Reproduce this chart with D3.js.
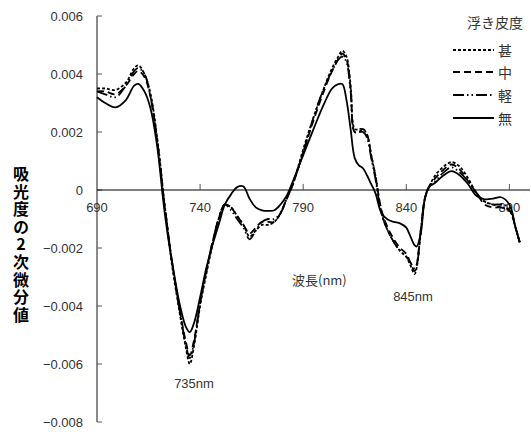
<!DOCTYPE html>
<html>
<head>
<meta charset="utf-8">
<script src="https://cdn.jsdelivr.net/npm/d3@7"></script>
<style>
  html, body { margin: 0; padding: 0; background: #fff; }
  svg { display: block; }
</style>
</head>
<body>
<svg id="chart" width="531" height="432"></svg>
<script>
// Wavelength grid (nm)
const wavelengths = [690,694,699,704,708,710,713,716,719,721,722,724,726,730,733,735,737,740,743,746,749,752,755,758,761,764,767,770,773,776,779,782,785,790,795,800,804,807,809,811,813,815,817,819,821,823,825,828,831,834,837,840,842,844,845,847,849,851,854,858,862,866,870,874,878,882,886,890,893,895];

// Second-derivative absorbance for each grade
const seriesJin = [0.0035,0.0035,0.00345,0.0037,0.0042,0.0043,0.0040,0.0033,0.0019,0.0007,0.0000,-0.0012,-0.0024,-0.0042,-0.0054,-0.0060,-0.0054,-0.0040,-0.0029,-0.0019,-0.0010,-0.0005,-0.0006,-0.0009,-0.0012,-0.0016,-0.0014,-0.0012,-0.0012,-0.0011,-0.0008,-0.0003,0.0002,0.0014,0.0025,0.0035,0.0042,0.0046,0.0048,0.0046,0.0036,0.0021,0.0021,0.0021,0.0019,0.0012,0.0005,-0.0008,-0.0014,-0.0018,-0.0021,-0.0023,-0.0026,-0.0029,-0.0027,-0.0015,-0.0003,0.0001,0.0005,0.0008,0.00096,0.0008,0.0004,-0.0001,-0.0004,-0.0005,-0.0006,-0.0007,-0.0013,-0.0018];
const seriesChu = [0.0034,0.0034,0.0033,0.0036,0.0040,0.0041,0.0039,0.0032,0.0018,0.0006,-0.0001,-0.0012,-0.0023,-0.0041,-0.0052,-0.0057,-0.0052,-0.0039,-0.0028,-0.0018,-0.0010,-0.0005,-0.0006,-0.0009,-0.0012,-0.0015,-0.0013,-0.0011,-0.0011,-0.0011,-0.0008,-0.0003,0.0002,0.0013,0.0024,0.0034,0.0041,0.0045,0.0047,0.0045,0.0035,0.0020,0.0020,0.0021,0.0019,0.0012,0.0005,-0.0007,-0.0013,-0.0017,-0.0020,-0.0022,-0.0025,-0.0028,-0.0026,-0.0014,-0.0003,0.0001,0.0004,0.0007,0.00088,0.0007,0.0003,-0.0001,-0.0005,-0.0006,-0.0006,-0.0007,-0.0013,-0.0018];
const seriesKei = [0.0034,0.0033,0.0032,0.0036,0.0041,0.0042,0.0040,0.0032,0.0018,0.0006,-0.0001,-0.0012,-0.0023,-0.0041,-0.0053,-0.0058,-0.0053,-0.0039,-0.0028,-0.0018,-0.0010,-0.0005,-0.0007,-0.0010,-0.0013,-0.0017,-0.0014,-0.0011,-0.0010,-0.0010,-0.0008,-0.0003,0.0002,0.0013,0.0025,0.0035,0.0041,0.0045,0.0046,0.0044,0.0034,0.0020,0.0020,0.0020,0.0018,0.0011,0.0004,-0.0008,-0.0014,-0.0018,-0.0021,-0.0023,-0.0025,-0.0027,-0.0026,-0.0014,-0.0003,0.0001,0.0003,0.0006,0.00078,0.0006,0.0003,-0.0001,-0.0004,-0.0005,-0.0005,-0.0006,-0.0013,-0.0018];
const seriesMu  = [0.0032,0.0030,0.00285,0.0031,0.0036,0.00366,0.0034,0.0028,0.0016,0.0004,-0.0003,-0.0014,-0.0023,-0.0039,-0.0047,-0.0049,-0.0046,-0.0037,-0.0027,-0.0019,-0.0012,-0.0005,-0.00015,0.0001,0.00012,-0.0003,-0.0006,-0.0007,-0.00072,-0.0007,-0.0005,-0.0002,0.0003,0.0012,0.0021,0.00295,0.0035,0.00365,0.00365,0.0031,0.0021,0.0011,0.00085,0.00075,0.0005,0.0002,-0.0001,-0.0008,-0.00102,-0.0011,-0.00115,-0.0013,-0.0016,-0.0019,-0.00195,-0.0015,-0.0003,0.0001,0.00025,0.0005,0.00065,0.0005,0.0002,-0.0002,-0.00032,-0.0003,-0.00025,-0.0005,-0.0013,-0.0018];

const seriesNames = ["甚", "中", "軽", "無"];
const xTicks = [690, 740, 790, 840, 890];
const yTicks = [0.006, 0.004, 0.002, 0, -0.002, -0.004, -0.006, -0.008];
const yTitle = "吸光度の2次微分値";

const series = [
  { name: seriesNames[0], values: seriesJin, dash: "3,2" },
  { name: seriesNames[1], values: seriesChu, dash: "7,4" },
  { name: seriesNames[2], values: seriesKei, dash: "11,3,1.5,3,1.5,3" },
  { name: seriesNames[3], values: seriesMu,  dash: null }
];

const svg = d3.select("#chart");
const numFont = "'Liberation Sans', Arial, sans-serif";
const jpFont = "'Noto Sans CJK JP', sans-serif";

const x = d3.scaleLinear().domain([690, 900]).range([97, 530]);
const y = d3.scaleLinear().domain([-0.008, 0.006]).range([422, 16]);

// y axis (grey, ticks pointing inward)
svg.append("line")
  .attr("x1", x(690)).attr("x2", x(690))
  .attr("y1", y(0.006)).attr("y2", y(-0.008))
  .attr("stroke", "#8a8a8a").attr("stroke-width", 2);
svg.selectAll(".ytick").data(yTicks).enter().append("line")
  .attr("x1", x(690)).attr("x2", x(690) + 5)
  .attr("y1", d => y(d)).attr("y2", d => y(d))
  .attr("stroke", "#555").attr("stroke-width", 1);
svg.selectAll(".ylab").data(yTicks).enter().append("text")
  .attr("x", 83).attr("y", d => y(d))
  .attr("dy", "0.35em")
  .attr("text-anchor", "end")
  .attr("font-family", numFont).attr("font-size", 13)
  .attr("fill", "#333")
  .text(d => d === 0 ? "0" : d3.format(".3f")(d).replace("-", "\u2212"));

// x axis at zero, ticks pointing up
svg.append("line")
  .attr("x1", x(690)).attr("x2", x(900))
  .attr("y1", y(0)).attr("y2", y(0))
  .attr("stroke", "#000").attr("stroke-width", 1);
svg.selectAll(".xtick").data(xTicks.slice(1)).enter().append("line")
  .attr("x1", d => x(d)).attr("x2", d => x(d))
  .attr("y1", y(0)).attr("y2", y(0) - 6)
  .attr("stroke", "#555").attr("stroke-width", 1);
svg.selectAll(".xlab").data(xTicks).enter().append("text")
  .attr("x", d => x(d)).attr("y", y(0) + 22)
  .attr("text-anchor", "middle")
  .attr("font-family", numFont).attr("font-size", 13)
  .attr("fill", "#333")
  .text(d => d);

// vertical y-axis title, set in vertical writing mode
svg.append("text")
  .attr("x", 21).attr("y", 166)
  .attr("writing-mode", "vertical-rl")
  .style("text-orientation", "upright")
  .attr("letter-spacing", 1.6)
  .attr("font-family", jpFont).attr("font-size", 16).attr("font-weight", "bold")
  .attr("fill", "#000")
  .text(yTitle);

// curves
const line = d3.line()
  .x((d, i) => x(wavelengths[i]))
  .y(d => y(d))
  .curve(d3.curveCatmullRom.alpha(0.5));

series.forEach(s => {
  svg.append("path")
    .datum(s.values)
    .attr("d", line)
    .attr("fill", "none")
    .attr("stroke", "#000")
    .attr("stroke-width", 1.8)
    .attr("stroke-dasharray", s.dash);
});

// annotations
svg.append("text").attr("x", 292).attr("y", 285)
  .attr("font-family", jpFont).attr("font-size", 13).attr("fill", "#333")
  .text("波長(nm)");
svg.append("text").attr("x", 194).attr("y", 388).attr("text-anchor", "middle")
  .attr("font-family", numFont).attr("font-size", 13).attr("fill", "#333")
  .text("735nm");
svg.append("text").attr("x", 413).attr("y", 301).attr("text-anchor", "middle")
  .attr("font-family", numFont).attr("font-size", 13).attr("fill", "#333")
  .text("845nm");

// legend
svg.append("text").attr("x", 523).attr("y", 28).attr("text-anchor", "end")
  .attr("font-family", jpFont).attr("font-size", 14).attr("fill", "#333")
  .text("浮き皮度");
const legendY = [50, 72, 95, 118];
series.forEach((s, i) => {
  svg.append("line")
    .attr("x1", 453).attr("x2", 494)
    .attr("y1", legendY[i]).attr("y2", legendY[i])
    .attr("stroke", "#000").attr("stroke-width", 1.8)
    .attr("stroke-dasharray", s.dash);
  svg.append("text")
    .attr("x", 498).attr("y", legendY[i])
    .attr("dominant-baseline", "central")
    .attr("font-family", jpFont).attr("font-size", 14).attr("fill", "#333")
    .text(s.name);
});
</script>
</body>
</html>
